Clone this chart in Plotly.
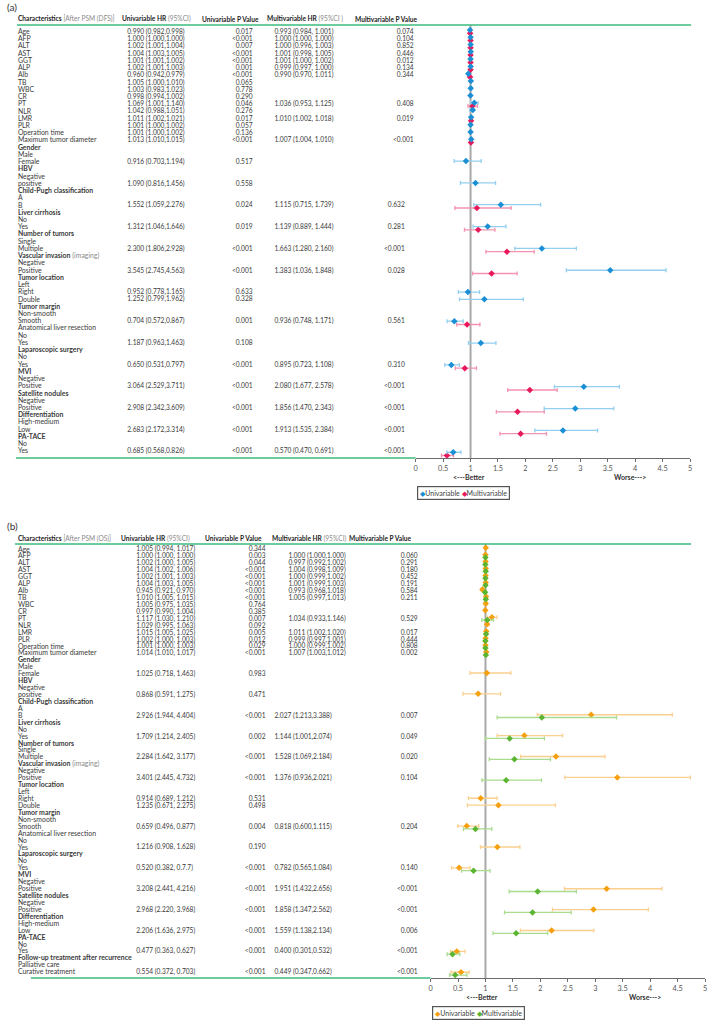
import plotly.graph_objects as go

W, H = 709, 1021
FONT = "Lato"
TXT = "#3a3a3a"
GRAY = "#8a8a8a"
GREEN = "#3dbb7e"

# ---------------- shared row labels ----------------
row_labels_a = [
    "Age", "AFP", "ALT", "AST", "GGT", "ALP", "Alb", "TB", "WBC", "CR", "PT", "NLR",
    "LMR", "PLR", "Operation time", "Maximum tumor diameter",
    "<b>Gender</b>", "Male", "Female",
    "<b>HBV</b>", "Negative", "positive",
    "<b>Child-Pugh classification</b>", "A", "B",
    "<b>Liver cirrhosis</b>", "No", "Yes",
    "<b>Number of tumors</b>", "Single", "Multiple",
    "<b>Vascular invasion</b> <span style='color:#8a8a8a'>(imaging)</span>", "Negative", "Positive",
    "<b>Tumor location</b>", "Left", "Right", "Double",
    "<b>Tumor margin</b>", "Non-smooth", "Smooth",
    "Anatomical liver resection", "No", "Yes",
    "<b>Laparoscopic surgery</b>", "No", "Yes",
    "<b>MVI</b>", "Negative", "Positive",
    "<b>Satellite nodules</b>", "Negative", "Positive",
    "<b>Differentiation</b>", "High-medium", "Low",
    "<b>PA-TACE</b>", "No", "Yes",
]
row_labels_b = row_labels_a + [
    "<b>Follow-up treatment after recurrence</b>", "Palliative care", "Curative treatment",
]

# ---------------- Panel (a): after PSM (DFS) ----------------
a_uni_rows = list(range(16)) + [18, 21, 24, 27, 30, 33, 36, 37, 40, 43, 46, 49, 52, 55, 58]
a_uni_hr = [0.990, 1.000, 1.002, 1.004, 1.001, 1.002, 0.960, 1.005, 1.003, 0.998, 1.069, 1.042,
            1.011, 1.001, 1.001, 1.013, 0.916, 1.090, 1.552, 1.312, 2.300, 3.545, 0.952, 1.252,
            0.704, 1.187, 0.650, 3.064, 2.908, 2.683, 0.685]
a_uni_lo = [0.982, 1.000, 1.001, 1.003, 1.001, 1.001, 0.942, 1.000, 0.983, 0.994, 1.001, 0.988,
            1.002, 1.000, 1.000, 1.010, 0.703, 0.816, 1.059, 1.046, 1.806, 2.745, 0.778, 0.799,
            0.572, 0.963, 0.531, 2.529, 2.342, 2.172, 0.568]
a_uni_hi = [0.998, 1.000, 1.004, 1.005, 1.002, 1.003, 0.979, 1.010, 1.023, 1.002, 1.140, 1.051,
            1.021, 1.002, 1.002, 1.015, 1.194, 1.456, 2.276, 1.646, 2.928, 4.563, 1.165, 1.962,
            0.867, 1.463, 0.797, 3.711, 3.609, 3.314, 0.826]
a_uni_p = ["0.017", "<0.001", "0.007", "<0.001", "<0.001", "0.001", "<0.001", "0.065", "0.778",
           "0.290", "0.046", "0.276", "0.017", "0.057", "0.136", "<0.001", "0.517", "0.558",
           "0.024", "0.019", "<0.001", "<0.001", "0.633", "0.328", "0.001", "0.108", "<0.001",
           "<0.001", "<0.001", "<0.001", "<0.001"]

a_multi_rows = [0, 1, 2, 3, 4, 5, 6, 10, 12, 15, 24, 27, 30, 33, 40, 46, 49, 52, 55, 58]
a_multi_hr = [0.993, 1.000, 1.000, 1.001, 1.001, 0.999, 0.990, 1.036, 1.010, 1.007, 1.115, 1.139,
              1.663, 1.383, 0.936, 0.895, 2.080, 1.856, 1.913, 0.570]
a_multi_lo = [0.984, 1.000, 0.996, 0.998, 1.000, 0.997, 0.970, 0.953, 1.002, 1.004, 0.715, 0.889,
              1.280, 1.036, 0.748, 0.723, 1.677, 1.470, 1.535, 0.470]
a_multi_hi = [1.001, 1.000, 1.003, 1.005, 1.002, 1.000, 1.011, 1.125, 1.018, 1.010, 1.739, 1.444,
              2.160, 1.848, 1.171, 1.108, 2.578, 2.343, 2.384, 0.691]
a_multi_p = ["0.074", "0.104", "0.852", "0.446", "0.012", "0.134", "0.344", "0.408", "0.019",
             "<0.001", "0.632", "0.281", "<0.001", "0.028", "0.561", "0.310", "<0.001", "<0.001",
             "<0.001", "<0.001"]

# ---------------- Panel (b): after PSM (OS) ----------------
b_uni_rows = list(range(16)) + [18, 21, 24, 27, 30, 33, 36, 37, 40, 43, 46, 49, 52, 55, 58, 61]
b_uni_hr = [1.005, 1.000, 1.002, 1.004, 1.002, 1.004, 0.945, 1.010, 1.005, 0.997, 1.117, 1.029,
            1.015, 1.002, 1.001, 1.014, 1.025, 0.868, 2.926, 1.709, 2.284, 3.401, 0.914, 1.235,
            0.659, 1.216, 0.520, 3.208, 2.968, 2.206, 0.477, 0.554]
b_uni_lo = [0.994, 1.000, 1.000, 1.002, 1.001, 1.003, 0.921, 1.005, 0.975, 0.990, 1.030, 0.995,
            1.005, 1.000, 1.000, 1.010, 0.718, 0.591, 1.944, 1.214, 1.642, 2.445, 0.689, 0.671,
            0.496, 0.908, 0.382, 2.441, 2.220, 1.636, 0.363, 0.372]
b_uni_hi = [1.017, 1.000, 1.005, 1.006, 1.003, 1.005, 0.970, 1.015, 1.035, 1.004, 1.210, 1.063,
            1.025, 1.003, 1.003, 1.017, 1.463, 1.275, 4.404, 2.405, 3.177, 4.732, 1.212, 2.275,
            0.877, 1.628, 0.717, 4.216, 3.968, 2.975, 0.627, 0.703]
b_uni_p = ["0.344", "0.003", "0.044", "<0.001", "<0.001", "<0.001", "<0.001", "<0.001", "0.764",
           "0.385", "0.007", "0.092", "0.005", "0.012", "0.029", "<0.001", "0.983", "0.471",
           "<0.001", "0.002", "<0.001", "<0.001", "0.531", "0.498", "0.004", "0.190", "<0.001",
           "<0.001", "<0.001", "<0.001", "<0.001", "<0.001"]
b_uni_text_fix = {46: "0.520 (0.382, 0.7.7)"}

b_multi_rows = [1, 2, 3, 4, 5, 6, 7, 10, 12, 13, 14, 15, 24, 27, 30, 33, 40, 46, 49, 52, 55, 58, 61]
b_multi_hr = [1.000, 0.997, 1.004, 1.000, 1.001, 0.993, 1.005, 1.034, 1.011, 0.999, 1.000, 1.007,
              2.027, 1.440, 1.528, 1.376, 0.818, 0.782, 1.951, 1.858, 1.559, 0.400, 0.449]
b_multi_lo = [1.000, 0.992, 0.998, 0.999, 0.999, 0.968, 0.997, 0.933, 1.002, 0.997, 0.999, 1.003,
              1.213, 1.001, 1.069, 0.936, 0.600, 0.565, 1.432, 1.347, 1.138, 0.301, 0.347]
b_multi_hi = [1.000, 1.002, 1.009, 1.002, 1.003, 1.018, 1.013, 1.146, 1.020, 1.001, 1.002, 1.012,
              3.388, 2.074, 2.184, 2.021, 1.115, 1.084, 2.656, 2.562, 2.134, 0.532, 0.662]
b_multi_p = ["0.060", "0.291", "0.180", "0.452", "0.191", "0.584", "0.211", "0.529", "0.017",
             "0.444", "0.808", "0.002", "0.007", "0.049", "0.020", "0.104", "0.204", "0.140",
             "<0.001", "<0.001", "0.006", "<0.001", "<0.001"]
b_multi_text_fix = {27: "1.144 (1.001,2.074)"}

x_tick_vals = [0, 0.5, 1, 1.5, 2, 2.5, 3, 3.5, 4, 4.5, 5]
x_tick_text = ["0", "0.5", "1", "1.5", "2", "2.5", "3", "3.5", "4", "4.5", "5"]

# colours
A_UNI, A_UNI_BAR = "#1a8fd6", "#93cff0"
A_MUL, A_MUL_BAR = "#e8195a", "#f393b1"
B_UNI, B_UNI_BAR = "#f5a00f", "#fbd08e"
B_MUL, B_MUL_BAR = "#5bb531", "#a9dc8e"


def px(x):
    return x / W


def py(y):
    return 1 - y / H


def row_axis(top, bottom, row0, step):
    return dict(domain=[py(bottom), py(top)],
                range=[(bottom - row0) / step, (top - row0) / step],
                visible=False, fixedrange=True)


def fmt(hr, lo, hi, pat):
    return pat.format(hr, lo, hi)


fig = go.Figure()


def forest(xa, ya, rows, hr, lo, hi, off, col, barcol):
    fig.add_trace(go.Scatter(
        x=hr, y=[r + off for r in rows], mode="markers", xaxis=xa, yaxis=ya,
        marker=dict(symbol="diamond", size=5, color=col),
        error_x=dict(type="data", symmetric=False,
                     array=[h - m for h, m in zip(hi, hr)],
                     arrayminus=[m - l for m, l in zip(hr, lo)],
                     color=barcol, thickness=1.3, width=2),
        showlegend=False, hoverinfo="skip", cliponaxis=False))


def text_col(xa, ya, xs, rows, texts, pos, size=6.6, color=TXT):
    if not isinstance(xs, list):
        xs = [xs] * len(rows)
    fig.add_trace(go.Scatter(
        x=xs, y=rows, text=texts, mode="text", textposition=pos, xaxis=xa, yaxis=ya,
        textfont=dict(family=FONT, size=size, color=color),
        showlegend=False, hoverinfo="skip", cliponaxis=False))


# ---- panel (a) ----
forest("x", "y", a_multi_rows, a_multi_hr, a_multi_lo, a_multi_hi, 0.45, A_MUL, A_MUL_BAR)
forest("x", "y", a_uni_rows, a_uni_hr, a_uni_lo, a_uni_hi, 0.0, A_UNI, A_UNI_BAR)

text_col("x2", "y2", 16, list(range(len(row_labels_a))), row_labels_a, "middle right", size=6.9)
text_col("x2", "y2", 126, a_uni_rows,
         [fmt(h, l, u, "{:.3f} ({:.3f},{:.3f})") for h, l, u in zip(a_uni_hr, a_uni_lo, a_uni_hi)],
         "middle right")
text_col("x2", "y2", 252, a_uni_rows, a_uni_p, "middle left")
text_col("x2", "y2", 274, a_multi_rows,
         [fmt(h, l, u, "{:.3f} ({:.3f}, {:.3f})") for h, l, u in zip(a_multi_hr, a_multi_lo, a_multi_hi)],
         "middle right")
text_col("x2", "y2", [414 if r < 16 else 405 for r in a_multi_rows], a_multi_rows, a_multi_p,
         "middle left")

# ---- panel (b) ----
forest("x3", "y3", b_uni_rows, b_uni_hr, b_uni_lo, b_uni_hi, 0.0, B_UNI, B_UNI_BAR)
forest("x3", "y3", b_multi_rows, b_multi_hr, b_multi_lo, b_multi_hi, 0.4, B_MUL, B_MUL_BAR)

text_col("x4", "y4", 16, list(range(len(row_labels_b))), row_labels_b, "middle right", size=6.9)
text_col("x4", "y4", 135, b_uni_rows,
         [b_uni_text_fix.get(r, fmt(h, l, u, "{:.3f} ({:.3f}, {:.3f})"))
          for r, h, l, u in zip(b_uni_rows, b_uni_hr, b_uni_lo, b_uni_hi)],
         "middle right")
text_col("x4", "y4", 265, b_uni_rows, b_uni_p, "middle left")
text_col("x4", "y4", [288 if r < 16 else 274 for r in b_multi_rows], b_multi_rows,
         [b_multi_text_fix.get(r, fmt(h, l, u, "{:.3f} ({:.3f},{:.3f})"))
          for r, h, l, u in zip(b_multi_rows, b_multi_hr, b_multi_lo, b_multi_hi)],
         "middle right")
text_col("x4", "y4", 418, b_multi_rows, b_multi_p, "middle left")

# ---- axes ----
def forest_x(left, right, anchor):
    return dict(domain=[px(left), px(right)], range=[0, 5], anchor=anchor,
                tickvals=x_tick_vals, ticktext=x_tick_text,
                showline=True, linecolor="#6b6b6b", linewidth=1,
                ticks="outside", ticklen=3, tickcolor="#6b6b6b",
                tickfont=dict(family=FONT, size=7.3, color="#555"),
                showgrid=False, zeroline=False, fixedrange=True)


table_x = dict(domain=[0, 1], range=[0, W], visible=False, fixedrange=True)

fig.update_layout(
    width=W, height=H, margin=dict(l=0, r=0, t=0, b=0),
    paper_bgcolor="white", plot_bgcolor="rgba(0,0,0,0)",
    font=dict(family=FONT, color=TXT),
    xaxis=forest_x(416, 692, "y"),
    yaxis=row_axis(25, 458, 30.0, 7.28),
    xaxis2=dict(table_x, anchor="y2"),
    yaxis2=row_axis(25, 458, 32.3, 7.23),
    xaxis3=forest_x(431, 707, "y3"),
    yaxis3=row_axis(544, 978, 547.7, 6.96),
    xaxis4=dict(table_x, anchor="y4"),
    yaxis4=row_axis(544, 978, 549.8, 6.93),
)

shapes = [
    dict(type="line", xref="paper", yref="paper", x0=px(15), x1=px(693), y0=py(25), y1=py(25),
         line=dict(color=GREEN, width=1.5)),
    dict(type="line", xref="paper", yref="paper", x0=px(14), x1=px(416), y0=py(458), y1=py(458),
         line=dict(color=GREEN, width=1.5)),
    dict(type="line", xref="paper", yref="paper", x0=px(13), x1=px(693), y0=py(544), y1=py(544),
         line=dict(color=GREEN, width=1.5)),
    dict(type="line", xref="paper", yref="paper", x0=px(29), x1=px(431), y0=py(978), y1=py(978),
         line=dict(color=GREEN, width=1.5)),
    dict(type="line", xref="x", yref="y domain", x0=1, x1=1, y0=0, y1=1, layer="below",
         line=dict(color="#a8a8a8", width=2)),
    dict(type="line", xref="x3", yref="y3 domain", x0=1, x1=1, y0=0, y1=1, layer="below",
         line=dict(color="#a8a8a8", width=2)),
]
fig.update_layout(shapes=shapes)

ann = []


def note(x, y, text, size=7.5, xanchor="left", color=TXT, **kw):
    ann.append(dict(xref="paper", yref="paper", x=px(x), y=py(y), text=text, showarrow=False,
                    xanchor=xanchor, yanchor="middle",
                    font=dict(family=FONT, size=size, color=color), **kw))


g = "<span style='color:#8a8a8a'>{}</span>"
for (lab, ytop, heads, better, worse, leg_y, leg_x, cu, cm) in [
    ("(a)", 19, [(14, "<b>Characteristics</b> " + g.format("[After PSM (DFS)]")),
                 (119, "<b>Univariable HR</b> " + g.format("(95%CI)")),
                 (199, "<b>Univariable P Value</b>"),
                 (264, "<b>Multivariable HR</b> " + g.format("(95%CI )")),
                 (353, "<b>Multivariable P Value</b>")],
     (470, 477), (632, 477), 493, 417, A_UNI, A_MUL),
    ("(b)", 538, [(14, "<b>Characteristics</b> " + g.format("[After PSM (OS)]")),
                  (118, "<b>Univariable HR</b> " + g.format("(95%CI)")),
                  (202, "<b>Univariable P Value</b>"),
                  (270, "<b>Multivariable HR</b> " + g.format("(95%CI)")),
                  (347, "<b>Multivariable P Value</b>")],
     (483, 997), (647, 997), 1013, 432, B_UNI, B_MUL),
]:
    note(3, ytop - 12, lab, size=10, color="#333")
    for hx, ht in heads:
        note(hx, ytop, ht, size=6.6, color="#222")
    note(better[0], better[1], "<b>&lt;---Better</b>", size=7, xanchor="center", color="#333")
    note(worse[0], worse[1], "<b>Worse---&gt;</b>", size=7, xanchor="center", color="#333")
    note(leg_x, leg_y,
         "<span style='color:%s'>◆</span>Univariable <span style='color:%s'>◆</span>Multivariable" % (cu, cm),
         size=7, color="#444", bordercolor="#555", borderwidth=1.2, borderpad=2, bgcolor="white")

fig.update_layout(annotations=ann)

fig.write_html("out.html", config={"displayModeBar": False},
               post_script="document.body.style.margin='0px';")
